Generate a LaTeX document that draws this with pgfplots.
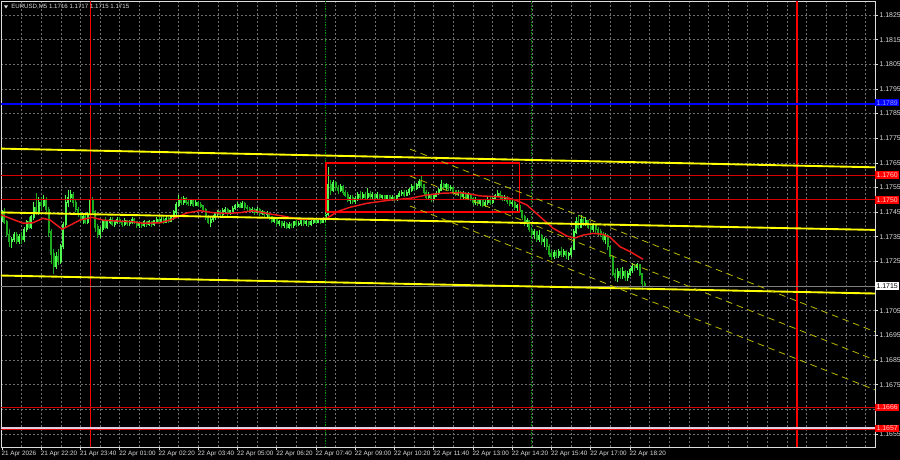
\documentclass[border=0pt]{standalone}
\usepackage{fontspec}
\setmainfont{Liberation Sans}
\usepackage{pgfplots}
\usepackage{pgfplotstable}
\pgfplotsset{compat=1.18}

\definecolor{fg}{RGB}{220,220,220}
\definecolor{gridc}{RGB}{110,110,110}
\definecolor{bull}{RGB}{80,250,80}
\definecolor{bear}{RGB}{30,170,30}
\definecolor{lvl}{RGB}{215,0,0}
\definecolor{ylw}{RGB}{255,255,0}
\definecolor{ylwd}{RGB}{185,185,0}
\definecolor{ma}{RGB}{235,25,25}
\definecolor{vgreen}{RGB}{0,150,0}
\definecolor{pinkline}{RGB}{225,205,225}
\definecolor{bluetxt}{RGB}{150,150,255}
\definecolor{redtxt}{RGB}{255,205,205}

% bars in 5-min steps from 21 Apr 21:00, prices in pips above 1.1000
\pgfplotstableread{
x o h l c
0 743 746 741 745
1 745 746.5 740 741
2 741 742 735 736
3 736 738 731 733
4 733 735 730.5 734
5 734 737 733 736
6 736 737 732 733
7 733 736 732 735
8 735 737 732 734
9 734 739 733 738
10 738 742 737 741
11 741 743 738 739
12 739 744 738 743
13 743 749 742 747
14 747 752.8 744 745
15 745 751 744 749
16 749 751 746 748
17 748 752 747 750
18 750 751 745 746
19 746 747 735 737
20 737 738 724 728
21 728 730 720 723
22 723 729 722 727
23 727 730 723.6 725
24 725 732 724 731
25 731 741 730 740
26 740 752 739 749
27 749 754 747 751
28 751 754 749 752
29 752 753 747 749
30 749 750 745 746
31 746 747 743 744
32 744 745 741 742
33 742 744.5 740 743
34 743 744 740 741
35 741 745 740 744
36 744 752.8 743 750
37 750 751 744 745
38 745 746 737 739
39 739 740 734.5 736
40 736 739 734.5 738
41 738 742 737 741
42 741 743 738 739
43 739 742 738 741
44 741 743 740 742
45 742 743 739.5 740
46 740 742 739 741
47 741 743 740 742
48 742 743 740 741
49 741 742 739 740
50 740 742.5 739.5 741.5
51 741.5 742 739.5 740.5
52 740.5 742 739.5 741
53 741 743 740 742
54 742 742.5 740 741
55 741 741.5 738.5 739.5
56 739.5 741 738.5 740.5
57 740.5 741 738.5 739.5
58 739.5 742 739 741
59 741 741.5 739 740
60 740 742 739.5 741
61 741 741.5 739 740
62 740 742 739.5 741.5
63 741.5 743 741 742
64 742 743 740 741
65 741 743 740.5 742
66 742 743 740 741
67 741 743.5 740.5 742.5
68 742.5 743 740.5 741.5
69 741.5 744 741 743
70 743 746 742 745
71 745 749 744 748
72 748 752 747 750
73 750 751 748 749
74 749 751.5 748 750.5
75 750.5 751 748 749
76 749 750.5 747.5 748.5
77 748.5 750 747.5 749.5
78 749.5 750 747 748
79 748 750 747.5 749
80 749 749.5 747 748
81 748 749 746.5 747.5
82 747.5 748 745 746
83 746 746.5 742 743
84 743 744 740 741
85 741 743 739 742
86 742 744 741 743
87 743 745 742 744.5
88 744.5 746 743.5 745
89 745 746 743 744
90 744 746.5 743.5 745.5
91 745.5 747 744.5 746
92 746 746.5 743.5 744.5
93 744.5 746 744 745.5
94 745.5 747.5 745 746.5
95 746.5 748.5 746 747.5
96 747.5 749 746.5 748
97 748 749 746.5 747
98 747 749.5 746.5 748.5
99 748.5 749 746 747
100 747 748 745.5 746.5
101 746.5 747 745 745.5
102 745.5 747 744.5 746
103 746 746.5 744 745
104 745 747 744.5 746
105 746 746.5 743.5 744.5
106 744.5 746 744 745
107 745 745.5 743 744
108 744 745.5 743 744.5
109 744.5 745 742 743
110 743 743.5 740.5 741.5
111 741.5 743 740.5 742
112 742 742.5 739.5 740.5
113 740.5 742 739.5 741
114 741 741.5 738.5 739.5
115 739.5 741.5 738.5 740.5
116 740.5 741 738 739
117 739 741 738 740
118 740 740.5 738.5 739.5
119 739.5 741.5 738.5 741
120 741 742 739 740
121 740 741.5 739.5 740.5
122 740.5 742 739.5 741.5
123 741.5 742 739.5 740.5
124 740.5 742 739.5 741
125 741 741.5 739 740
126 740 742 739.5 741
127 741 742.5 740 742
128 742 742.5 740 741
129 741 742.5 740.5 741.5
130 741.5 742 740 741
131 741 743 740.5 742
132 742 745 741 744
133 744 763.3 743.5 756
134 756 758 752 754
135 754 758 753 757
136 757 757.5 753.5 755
137 755 756 752.5 754
138 754 756.5 753 755.5
139 755.5 756 752 753
140 753 754 751 752
141 752 753 749 750
142 750 752 748.5 751
143 751 752 748.5 749.5
144 749.5 751.5 748.5 750.5
145 750.5 753 749.5 752
146 752 753.5 750 751
147 751 753 750 752
148 752 753 750 751
149 751 755 750.5 752.5
150 752.5 753.5 750.5 751.5
151 751.5 753 750.5 752
152 752 752.5 749.5 751
153 751 753 750.5 752
154 752 752.5 750 751
155 751 752 750 751.5
156 751.5 752 749.5 750.5
157 750.5 752 750 751.5
158 751.5 752 749.5 750.5
159 750.5 752 749.5 751
160 751 751.5 749.5 750.5
161 750.5 752 749.5 751.5
162 751.5 753.5 751 752.5
163 752.5 754 751.5 753
164 753 754 751 752
165 752 754 751.5 753
166 753 755 752 754
167 754 756.5 753 755.5
168 755.5 757 753.5 754.5
169 754.5 757 754 756
170 756 758.5 755 757.5
171 757.5 760 755 756
172 756 756.5 752 753
173 753 754 750 751
174 751 753 750 752
175 752 752.5 749 750.5
176 750.5 752.5 749.5 751.5
177 751.5 753.5 751 752.5
178 752.5 755 752 754
179 754 758 753.5 756
180 756 757 754 755
181 755 757 754 756
182 756 756.5 753.5 754.5
183 754.5 756 753.5 755
184 755 755.5 752.5 753.5
185 753.5 754 751.5 752.5
186 752.5 754 751.5 753
187 753 753.5 750.5 751.5
188 751.5 753.5 750.5 752.5
189 752.5 753 750 751
190 751 753 750.5 752
191 752 752.5 749.5 750.5
192 750.5 751 748 749
193 749 751 748 750
194 750 750.5 747.5 748.5
195 748.5 750.5 747.5 749.5
196 749.5 750 747 748
197 748 750 747 749
198 749 751 748 750
199 750 751 748 749
200 749 751.5 748.5 750.5
201 750.5 752.5 750 751.5
202 751.5 754 751 752.5
203 752.5 753.5 750.5 751.5
204 751.5 752 749.5 750.5
205 750.5 752 749.5 751
206 751 751.5 748.5 749.5
207 749.5 750 747.5 748.5
208 748.5 750 747 749
209 749 749.5 746 747
210 747 748.5 745.5 747.5
211 747.5 748 745 745.5
212 745.5 746 742 743
213 743 744 739.5 740.5
214 740.5 742.5 739 741.5
215 741.5 742 737 738
216 738 739 734.5 736
217 736 738 734 737
218 737 737.5 733 734
219 734 737.8 733 735.5
220 735.5 736 731.5 733
221 733 735 731 734
222 734 734.5 729.5 731
223 731 732 727 728
224 728 729.5 725.6 727
225 727 729.5 726 728.5
226 728.5 729.5 726.5 727.5
227 727.5 730 726.5 729
228 729 730.8 727 728
229 728 730 727 729
230 729 729.5 726 727.5
231 727.5 729 725.6 728
232 728 731 727 730
233 730 738 729.7 737
234 737 743 736 741
235 741 743.9 738 739
236 739 743.9 738.5 742
237 742 743 739.5 740.5
238 740.5 743 739.5 741.5
239 741.5 742 738 739
240 739 740 736.7 738
241 738 740.6 737 739.5
242 739.5 740 736.5 738
243 738 739 735.5 737
244 737 738 735 736
245 736 737 733 734
246 734 736.5 732 735.5
247 735.5 736 729.5 731
248 731 731.5 726 727
249 727 727.5 719 720
250 720 722 717 718.5
251 718.5 722.5 716.7 721
252 721 722.5 718 719.5
253 719.5 722.8 718 721
254 721 721.5 717 718.5
255 718.5 721 717 720
256 720 722.5 719 721.5
257 721.5 724.5 720.5 723
258 723 724 721 722.5
259 722.5 724.5 721.5 723.5
260 723.5 724 719 720
261 720 720.5 713.4 716
262 716 717 715 715
}\candles

\begin{document}
\begin{tikzpicture}
\fill[black] (0,0) rectangle (675pt,-345pt);
\begin{axis}[
  at={(0.75pt,-0.75pt)}, anchor=north west,
  scale only axis, width=655.5pt, height=334.5pt,
  xmin=-0.41, xmax=355.88, ymin=649.72, ymax=830.68,
  axis line style={fg, line width=0.6pt},
  xtick={0,16,...,256},
  xticklabels={21 Apr 2026, 21 Apr 22:20, 21 Apr 23:40, 22 Apr 01:00, 22 Apr 02:20, 22 Apr 03:40, 22 Apr 05:00, 22 Apr 06:20, 22 Apr 07:40, 22 Apr 09:00, 22 Apr 10:20, 22 Apr 11:40, 22 Apr 13:00, 22 Apr 14:20, 22 Apr 15:40, 22 Apr 17:00, 22 Apr 18:20},
  minor xtick={8,16,...,352},
  xmajorgrids=false, xminorgrids=true,
  ytick={655,665,...,825},
  yticklabels={1.1655,,1.1675,1.1685,1.1695,1.1705,,1.1725,1.1735,1.1745,1.1755,1.1765,1.1775,1.1785,1.1795,1.1805,1.1815,1.1825},
  ymajorgrids=true,
  grid style={gridc, dash pattern=on 1.5pt off 1.5pt, line width=0.5pt},
  minor grid style={gridc, dash pattern=on 1.5pt off 1.5pt, line width=0.5pt},
  tick align=outside, major tick length=2pt, minor tick length=0pt,
  tick style={fg, line width=0.5pt},
  xtick pos=left, ytick pos=right, yticklabel pos=right,
  ticklabel style={text=fg},
  xticklabel style={font=\fontsize{4.75}{6}\selectfont, anchor=north west, inner sep=0pt, yshift=-1.2pt, xshift=-0.5pt},
  yticklabel style={font=\fontsize{5.2}{6}\selectfont, anchor=west, inner sep=0pt, xshift=1.2pt},
  colormap={candle}{color(0)=(bear) color(1)=(bull)},
  point meta min=0, point meta max=1,
  clip=true,
]
% candles: wicks, then bodies, coloured by direction
\addplot[forget plot, mark=none, line width=0.65pt,
  quiver={u=0, v=\thisrow{h}-\thisrow{l}, colored},
  point meta=explicit]
  table[x=x, y=l, meta expr={\thisrow{c}>=\thisrow{o}}] {\candles};
\addplot[forget plot, mark=none, line width=1.5pt,
  quiver={u=0, v=abs(\thisrow{c}-\thisrow{o})+0.6, colored},
  point meta=explicit]
  table[x=x, y expr={min(\thisrow{o},\thisrow{c})-0.3}, meta expr={\thisrow{c}>=\thisrow{o}}] {\candles};

% vertical markers
\addplot[vgreen, dash pattern=on 1pt off 1pt, line width=0.6pt] coordinates {(132,649.72) (132,830.68)};
\addplot[vgreen, dash pattern=on 1pt off 1pt, line width=0.6pt] coordinates {(216,649.72) (216,830.68)};
\addplot[red, line width=1.1pt] coordinates {(36,649.72) (36,830.68)};
\addplot[red, line width=1.1pt] coordinates {(324,649.72) (324,830.68)};

% moving average
\addplot[ma, line width=1.1pt, line join=round] coordinates {
(-0.8,744.1) (3.3,742.5) (8.6,740.5) (12.6,740.7) (16.7,742.5) (19.6,741.8) (24.5,738.1) (28.5,740.1) (31.8,741.8) (36.7,742.9) (41.2,741.8) (46.9,741.4) (53.4,741.1) (57.5,740.5) (64.4,740.7) (68.5,741.8) (75.4,744.7) (80.7,745.6) (86,744.8) (91.7,744.5) (97,744.8) (102.3,745.6) (108,744.5) (114.6,743.4) (121.5,742.1) (132.5,742.5) (136.6,745.2) (141.9,747) (148.8,748.6) (158.2,749.9) (166.3,750.6) (173.3,752) (179.8,752.7) (186.7,752.9) (190.8,752.4) (194.9,751.6) (201.8,751.3) (205.9,750.9) (209.9,749.7) (214,747.9) (219.3,743.2) (224.6,738.5) (230.3,735.3) (233.6,734.5) (236.9,735.7) (240.9,736.4) (245,736) (247.9,734.8) (251.9,731) (256,729) (261.3,725.9)};

% horizontal levels
\addplot[blue, line width=1.5pt] coordinates {(-1,789) (356,789)};
\addplot[lvl, line width=0.7pt] coordinates {(-1,760) (356,760)};
\addplot[lvl, line width=0.7pt] coordinates {(-1,750) (356,750)};
\addplot[lvl, line width=0.7pt] coordinates {(-1,665.8) (356,665.8)};
\addplot[pinkline, line width=1.6pt] coordinates {(-1,657.5) (356,657.5)};
\addplot[lvl, line width=0.5pt] coordinates {(-1,656.9) (356,656.9)};
\addplot[gray, line width=0.6pt] coordinates {(-1,715) (356,715)};

% red box
\addplot[red, line width=1.3pt] coordinates {(132,745) (211,745) (211,765) (132,765) (132,745)};

% trend lines
\addplot[ylw, line width=1.4pt] coordinates {(-0.815,770.8) (355.9,763.2)};
\addplot[ylw, line width=1.4pt] coordinates {(-0.815,744.9) (355.9,737.8)};
\addplot[ylw, line width=1.4pt] coordinates {(-0.815,719.3) (355.9,712.0)};

% descending channel
\addplot[ylwd, line width=0.6pt, dash pattern=on 5pt off 3.5pt] coordinates {(166.3,770.6) (355.9,696.5)};
\addplot[ylwd, line width=0.6pt, dash pattern=on 5pt off 3.5pt] coordinates {(166.3,759.7) (355.9,685.0)};
\addplot[ylwd, line width=0.6pt, dash pattern=on 5pt off 3.5pt] coordinates {(166.3,747.5) (355.9,672.9)};
\end{axis}

\begin{scope}[x=0.75pt, y=-0.75pt, font=\fontsize{5.2}{6}\selectfont]
  \fill[fg] (4,5.5) -- (8,5.5) -- (6,8.5) -- cycle;
  \node[anchor=west, inner sep=0pt, text=fg, font=\fontsize{4.6}{6}\selectfont] at (11,7) {EURUSD,M5 1.1716 1.1717 1.1715 1.1715};
  \node[anchor=west, fill=blue, text=bluetxt, inner xsep=1pt, inner ysep=1pt, minimum width=17.25pt] at (875,102.7) {1.1789};
  \node[anchor=west, fill=red, text=redtxt, inner xsep=1pt, inner ysep=1pt, minimum width=17.25pt] at (875,175) {1.1760};
  \node[anchor=west, fill=red, text=redtxt, inner xsep=1pt, inner ysep=1pt, minimum width=17.25pt] at (875,200) {1.1750};
  \node[anchor=west, fill=white, text=black, inner xsep=1pt, inner ysep=1pt, minimum width=17.25pt] at (875,286) {1.1715};
  \node[anchor=west, fill=red, text=redtxt, inner xsep=1pt, inner ysep=1pt, minimum width=17.25pt] at (875,407.3) {1.1666};
  \node[anchor=west, fill=red, text=redtxt, inner xsep=1pt, inner ysep=1pt, minimum width=17.25pt] at (875,428.3) {1.1657};
\end{scope}
\pgfresetboundingbox
\path (0,0) rectangle (675pt,-345pt);
\end{tikzpicture}
\end{document}
